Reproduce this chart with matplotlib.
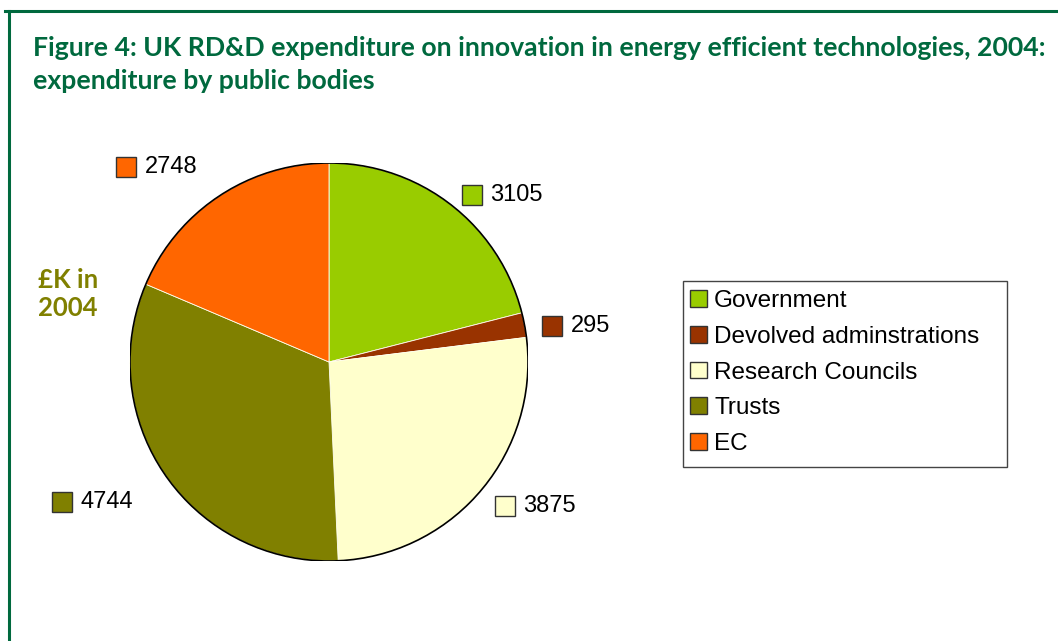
import numpy as np
import matplotlib.pyplot as plt
from matplotlib.patches import Patch, Rectangle, Circle
from matplotlib.offsetbox import AnnotationBbox, HPacker, DrawingArea, TextArea
from matplotlib.lines import Line2D

bodies = ["Government", "Devolved adminstrations", "Research Councils", "Trusts", "EC"]
spend = [3105, 295, 3875, 4744, 2748]
colours = ["#99CC00", "#993300", "#FFFFCC", "#808000", "#FF6600"]

title = ("Figure 4: UK RD&D expenditure on innovation in energy efficient technologies, 2004:\n"
         "expenditure by public bodies")
unit_label = "£K in\n2004"

W, H = 1058, 641
num_font = ["Liberation Sans", "DejaVu Sans"]
head_font = ["Lato", "DejaVu Sans"]
green = "#00693E"

fig = plt.figure(figsize=(W / 100, H / 100), dpi=100)
fig.patch.set_facecolor("white")

# frame lines along top and left
fig.add_artist(Line2D([5 / W, 1], [1 - 11 / H, 1 - 11 / H], color=green, lw=2.2))
fig.add_artist(Line2D([9 / W, 9 / W], [0, 1 - 11 / H], color=green, lw=2.2))

fig.text(33 / W, 1 - 36 / H, title, ha="left", va="top", fontsize=19.2,
         fontweight="bold", color=green, family=head_font, linespacing=1.45)
fig.text(38 / W, 1 - 268 / H, unit_label, ha="left", va="top", fontsize=18.5,
         fontweight="bold", color="#808000", family=head_font, linespacing=1.2)

# pie centred at (329, 362) px with radius 199 px
cx, cy, r = 329, 362, 199
ax = fig.add_axes([(cx - r) / W, (H - cy - r) / H, 2 * r / W, 2 * r / H])
wedges, _ = ax.pie(spend, colors=colours, startangle=90, counterclock=False,
                   radius=1, wedgeprops=dict(linewidth=0.6, edgecolor="#ffffee"))
ax.add_patch(Circle((0, 0), 1, fill=False, edgecolor="black", lw=1.2))
ax.set_xlim(-1, 1)
ax.set_ylim(-1, 1)
ax.set_aspect("equal")
ax.axis("off")

# value labels: a coloured key square followed by the number
for w, val, col in zip(wedges, spend, colours):
    mid = np.deg2rad((w.theta1 + w.theta2) / 2)
    right = np.cos(mid) > 0
    dist = 1.09 if right else 1.2
    x, y = dist * np.cos(mid), dist * np.sin(mid) - 0.02
    box = DrawingArea(14.5, 14.5, 0, 0)
    box.add_artist(Rectangle((0, 0), 14.5, 14.5, facecolor=col, edgecolor="#333333", lw=1))
    txt = TextArea(str(val), textprops=dict(fontsize=17, family=num_font, color="black"))
    pack = HPacker(children=[box, txt], align="center", pad=0, sep=6)
    align = (0, 0.5) if right else (1, 0.5)
    ab = AnnotationBbox(pack, (x, y), xycoords="data", frameon=False,
                        box_alignment=align, pad=0, annotation_clip=False)
    ax.add_artist(ab)

# legend
fig.add_artist(Rectangle((683 / W, 1 - 467 / H), 324 / W, 186 / H, transform=fig.transFigure,
                         facecolor="white", edgecolor="#444444", lw=1))
handles = [Patch(facecolor=c, edgecolor="#333333", linewidth=1) for c in colours]
fig.legend(handles, bodies, loc="upper left", bbox_to_anchor=(683 / W, 1 - 283 / H),
           frameon=False, prop=dict(family=num_font, size=17.5),
           handlelength=0.68, handleheight=0.68, handletextpad=0.3,
           labelspacing=0.56, borderpad=0.3, borderaxespad=0)

plt.savefig("out.png", dpi=100)
